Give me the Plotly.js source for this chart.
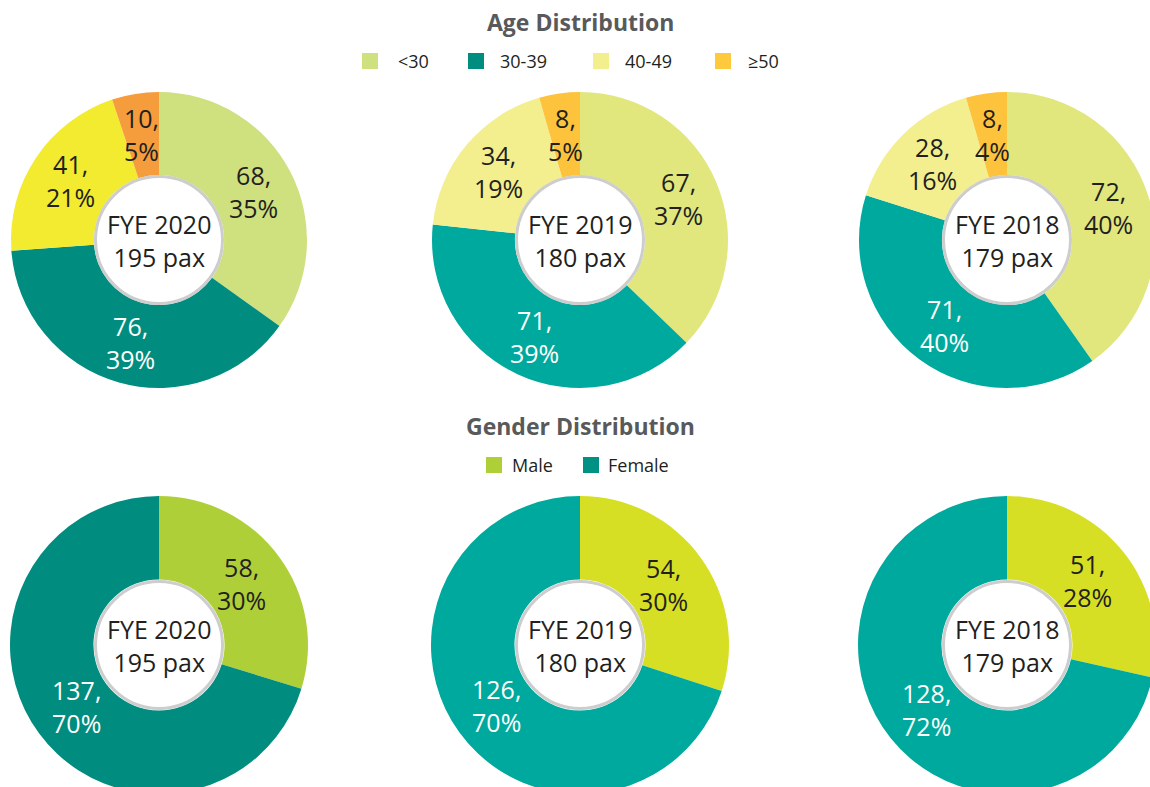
<!DOCTYPE html>
<html>
<head>
<meta charset="utf-8">
<script src="https://cdn.plot.ly/plotly-3.0.1.min.js"></script>
<style>
html,body{margin:0;padding:0;overflow:hidden;background:#fff;}
#chart{width:1170px;height:800px;}
</style>
</head>
<body>
<div id="chart"></div>
<script>
// ---------- DATA ----------
const years = ['FYE 2020', 'FYE 2019', 'FYE 2018'];
const headcount = [195, 180, 179];

const ageLabels = ['<30', '30-39', '40-49', '≥50'];
const age2020 = [68, 76, 41, 10];
const age2019 = [67, 71, 34, 8];
const age2018 = [72, 71, 28, 8];
const agePct2020 = ['35%', '39%', '21%', '5%'];
const agePct2019 = ['37%', '39%', '19%', '5%'];
const agePct2018 = ['40%', '40%', '16%', '4%'];

const genderLabels = ['Male', 'Female'];
const gender2020 = [58, 137];
const gender2019 = [54, 126];
const gender2018 = [51, 128];
const genderPct2020 = ['30%', '70%'];
const genderPct2019 = ['30%', '70%'];
const genderPct2018 = ['28%', '72%'];

// ---------- STYLE ----------
const ageColors = [
  ['#cfe07f', '#008d80', '#f2eb2f', '#f59c3c'],
  ['#e1e67d', '#00a99d', '#f3ef8e', '#fdc33c'],
  ['#e1e67d', '#00a99d', '#f3ef8e', '#fdc33c']
];
const ageTextColors = ['#231f20', '#ffffff', '#231f20', '#231f20'];
const ageLegendColors = ['#cfe07f', '#008d80', '#f3ef8e', '#fec93c'];
const genderColors = [
  ['#afcf38', '#008d80'],
  ['#d6df23', '#00a99d'],
  ['#d6df23', '#00a99d']
];
const genderTextColors = ['#231f20', '#ffffff'];
const genderLegendColors = ['#afcf38', '#009185'];

const W = 1170, H = 800;
const FONT = 'Open Sans, sans-serif';
const centersX = [159, 580, 1007];
const rows = [{cy: 240, R: 148, labR: 0.72}, {cy: 645, R: 149, labR: 0.69}];
const HOLE = 0.44;

const px = p => p / W;
const py = p => 1 - p / H;

const ageData = [age2020, age2019, age2018];
const agePct = [agePct2020, agePct2019, agePct2018];
const genderData = [gender2020, gender2019, gender2018];
const genderPct = [genderPct2020, genderPct2019, genderPct2018];

const traces = [];
const annotations = [];
const shapes = [];

function addDonut(rowIdx, col, labels, values, pcts, colors, textColors) {
  const {cy, R, labR} = rows[rowIdx];
  const cx = centersX[col];
  traces.push({
    type: 'pie',
    labels: labels,
    values: values,
    sort: false,
    direction: 'clockwise',
    rotation: 0,
    hole: HOLE,
    marker: {colors: colors, line: {width: 0}},
    textinfo: 'none',
    hoverinfo: 'label+value+percent',
    showlegend: false,
    domain: {x: [px(cx - R), px(cx + R)], y: [py(cy + R), py(cy - R)]}
  });
  // slice labels at mid-angle of each slice
  const total = values.reduce((a, b) => a + b, 0);
  let cum = 0;
  values.forEach((v, i) => {
    const ang = (cum + v / 2) / total * 2 * Math.PI;
    cum += v;
    const r = labR * R;
    annotations.push({
      xref: 'paper', yref: 'paper',
      x: px(cx + r * Math.sin(ang)), y: py(cy - r * Math.cos(ang)),
      xanchor: 'center', yanchor: 'middle', showarrow: false,
      text: v + ',<br>' + pcts[i],
      font: {family: FONT, size: 25, color: textColors[i]}
    });
  });
  // white centre disc with grey rim
  const rc = 63.5;
  shapes.push({
    type: 'circle', xref: 'paper', yref: 'paper', layer: 'above',
    x0: px(cx - rc), x1: px(cx + rc), y0: py(cy + rc), y1: py(cy - rc),
    fillcolor: '#ffffff', line: {color: '#cdcdcd', width: 3}
  });
  annotations.push({
    xref: 'paper', yref: 'paper', x: px(cx), y: py(cy),
    xanchor: 'center', yanchor: 'middle', showarrow: false,
    text: years[col] + '<br>' + headcount[col] + ' pax',
    font: {family: FONT, size: 25, color: '#231f20'}
  });
}

for (let c = 0; c < 3; c++) {
  addDonut(0, c, ageLabels, ageData[c], agePct[c], ageColors[c], ageTextColors);
  addDonut(1, c, genderLabels, genderData[c], genderPct[c], genderColors[c], genderTextColors);
}

// titles
function addTitle(text, x, y) {
  annotations.push({
    xref: 'paper', yref: 'paper', x: px(x), y: py(y),
    xanchor: 'center', yanchor: 'middle', showarrow: false,
    text: '<b>' + text + '</b>',
    font: {family: FONT, size: 23, color: '#58595b'}
  });
}
addTitle('Age Distribution', 580, 22);
addTitle('Gender Distribution', 580, 426);

// legends
function addLegend(labels, colors, markerX, textX, y) {
  labels.forEach((lab, i) => {
    shapes.push({
      type: 'rect', xref: 'paper', yref: 'paper', layer: 'above',
      x0: px(markerX[i]), x1: px(markerX[i] + 16), y0: py(y + 8), y1: py(y - 8),
      fillcolor: colors[i], line: {width: 0}
    });
    annotations.push({
      xref: 'paper', yref: 'paper', x: px(textX[i] - 2), y: py(y),
      xanchor: 'left', yanchor: 'middle', showarrow: false,
      text: lab,
      font: {family: FONT, size: 18, color: '#231f20'}
    });
  });
}
addLegend(ageLabels, ageLegendColors, [362, 468, 593, 715], [398, 500, 625, 748], 61);
addLegend(genderLabels, genderLegendColors, [486, 583], [512, 608], 465);

const layout = {
  width: W, height: H,
  margin: {l: 0, r: 0, t: 0, b: 0},
  paper_bgcolor: '#ffffff',
  plot_bgcolor: '#ffffff',
  showlegend: false,
  annotations: annotations,
  shapes: shapes
};

Plotly.newPlot('chart', traces, layout, {displayModeBar: false, staticPlot: true});
</script>
</body>
</html>
